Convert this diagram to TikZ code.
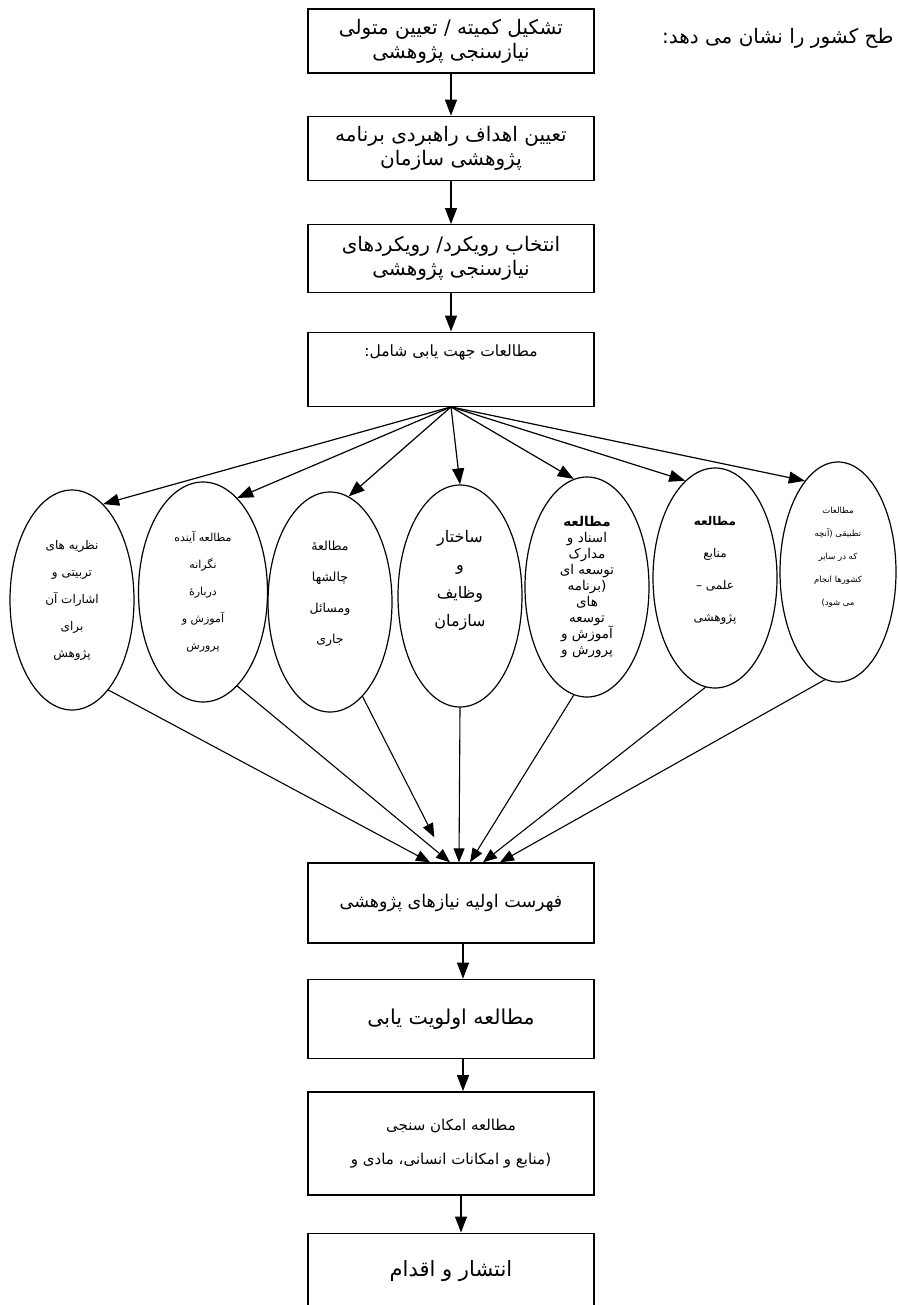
\documentclass[tikz,border=0pt]{standalone}
\usepackage{fontspec}
\usepackage{tikz}
\usetikzlibrary{shapes.geometric, arrows.meta, positioning}
\TeXXeTstate=1
\newfontfamily\farsi[Script=Arabic]{DejaVu Sans}
\newcommand{\fa}[1]{\beginR #1\endR}

\begin{document}
\begin{tikzpicture}[x=1pt, y=-1pt, every node/.style={font=\farsi}]

\tikzstyle{stepbox} = [rectangle, minimum width=286pt, text centered, align=center, draw=black, line width=1.4pt, font=\farsi\fontsize{20}{24}\selectfont]
\tikzstyle{study} = [ellipse, minimum width=124pt, minimum height=220pt, inner sep=0pt, align=center, draw=black, line width=1.2pt, font=\farsi\fontsize{12}{27}\selectfont]
\tikzstyle{arrow} = [line width=1.2pt, -{Triangle[length=16pt, width=12pt]}]
\tikzstyle{feed} = [line width=1.1pt, -{Triangle[length=14pt, width=11pt]}]

\useasboundingbox (0,0) rectangle (897,1305);

% Steps before the studies
\node (committee) [stepbox, minimum height=64pt] at (451,41) {\fa{تشکیل کمیته / تعیین متولی}\\\fa{نیازسنجی پژوهشی}};
\node (goals) [stepbox, minimum height=64pt, below=42pt of committee] {\fa{تعیین اهداف راهبردی برنامه}\\\fa{پژوهشی سازمان}};
\node (approach) [stepbox, minimum height=68pt, below=43pt of goals] {\fa{انتخاب رویکرد/ رویکردهای}\\\fa{نیازسنجی پژوهشی}};
\node (orient) [stepbox, minimum height=74pt, text depth=38pt, below=38pt of approach, font=\farsi\fontsize{15.5}{20}\selectfont] {\fa{مطالعات جهت یابی شامل:}};
\node (heading) [anchor=east, font=\farsi\fontsize{20}{24}\selectfont] at (897,38) {\fa{طح کشور را نشان می دهد:}};

% Studies
\node (theory) [study] at (72,600) {\fa{نظریه های}\\\fa{تربیتی و}\\\fa{اشارات آن}\\\fa{برای}\\\fa{پژوهش}};
\node (future) [study, minimum width=129pt, font=\farsi\fontsize{11}{27}\selectfont] at (203,592) {\fa{مطالعه آینده}\\\fa{نگرانه}\\\fa{دربارهٔ}\\\fa{آموزش و}\\\fa{پرورش}};
\node (issues) [study, text depth=20pt, font=\farsi\fontsize{12.5}{31}\selectfont] at (330,602) {\fa{مطالعهٔ}\\\fa{چالشها}\\\fa{ومسائل}\\\fa{جاری}};
\node (structure) [study, minimum height=222pt, text depth=35pt, font=\farsi\fontsize{16}{28}\selectfont] at (460,596) {\fa{ساختار}\\\fa{و}\\\fa{وظایف}\\\fa{سازمان}};
\node (docs) [study, font=\farsi\fontsize{13.5}{16}\selectfont] at (587,587) {\fa{\textbf{مطالعه}}\\\fa{اسناد و}\\\fa{مدارک}\\\fa{توسعه ای}\\\fa{(برنامه}\\\fa{های}\\\fa{توسعه}\\\fa{آموزش و}\\\fa{پرورش و}};
\node (sources) [study, text depth=18pt, font=\farsi\fontsize{12}{32}\selectfont] at (715,578) {\fa{\textbf{مطالعه}}\\\fa{منابع}\\\fa{علمی –}\\\fa{پژوهشی}};
\node (compare) [study, minimum width=116pt, text depth=32pt, font=\farsi\fontsize{8.5}{23}\selectfont] at (838,572) {\fa{مطالعات}\\\fa{تطبیقی (آنچه}\\\fa{که در سایر}\\\fa{کشورها انجام}\\\fa{می شود)}};

% Steps after the studies
\node (list) [stepbox, minimum height=80pt, font=\farsi\fontsize{17.5}{22}\selectfont] at (451,903) {\fa{فهرست اولیه نیازهای پژوهشی}};
\node (priority) [stepbox, minimum height=79pt, below=35pt of list, font=\farsi\fontsize{20.5}{24}\selectfont] {\fa{مطالعه اولویت یابی}};
\node (feasible) [stepbox, minimum height=103pt, below=32pt of priority, font=\farsi\fontsize{15}{34}\selectfont] {\fa{مطالعه امکان سنجی}\\\fa{(منابع و امکانات انسانی، مادی و}};
\node (action) [stepbox, minimum height=110pt, text depth=40pt, below=37pt of feasible, font=\farsi\fontsize{21}{24}\selectfont] {\fa{انتشار و اقدام}};

% Arrows
\draw [arrow] (committee) -- (goals);
\draw [arrow] (goals) -- (approach);
\draw [arrow] (approach) -- (orient);

\draw [arrow] (orient.south) -- (theory.72);
\draw [arrow] (orient.south) -- (future.70);
\draw [arrow] (orient.south) -- (issues.80);
\draw [arrow] (orient.south) -- (structure.north);
\draw [arrow] (orient.south) -- (docs.97);
\draw [arrow] (orient.south) -- (sources.107);
\draw [arrow] (orient.south) -- (compare.110);

\draw [feed] (theory.-68) -- ([xshift=-21pt]list.north);
\draw [feed] (future.-70) -- ([xshift=-1pt]list.north);
\draw [feed, shorten >=28pt] (issues.-71) -- ([xshift=-4pt]list.north);
\draw [feed] (structure.south) -- ([xshift=8pt]list.north);
\draw [feed] (docs.-97) -- ([xshift=19pt]list.north);
\draw [feed] (sources.-95) -- ([xshift=32pt]list.north);
\draw [feed] (compare.-97) -- ([xshift=49pt]list.north);

\draw [arrow] ([xshift=12pt]list.south) -- ([xshift=12pt]priority.north);
\draw [arrow] ([xshift=12pt]priority.south) -- ([xshift=12pt]feasible.north);
\draw [arrow] ([xshift=10pt]feasible.south) -- ([xshift=10pt]action.north);

\end{tikzpicture}
\end{document}
